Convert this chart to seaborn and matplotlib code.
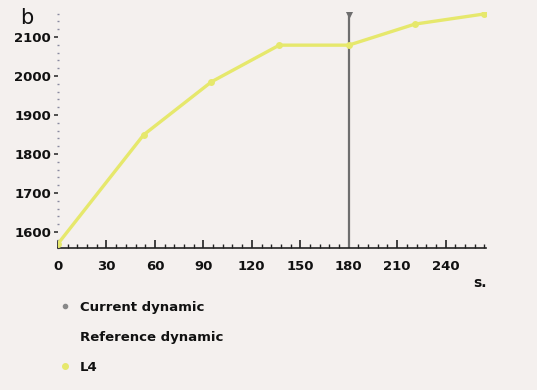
import matplotlib
matplotlib.use("Agg")
import matplotlib.pyplot as plt
from matplotlib.lines import Line2D
from matplotlib.ticker import MultipleLocator
import pandas as pd
import seaborn as sns

# L4 curve
time_s = [0, 53, 95, 137, 180, 221, 264]
value = [1570, 1849, 1985, 2079, 2079, 2133, 2159]
current_t = 180
x_ticks = [0, 30, 60, 90, 120, 150, 180, 210, 240]
y_ticks = [1600, 1700, 1800, 1900, 2000, 2100]
legend_labels = ["Current dynamic", "Reference dynamic", "L4"]

BG = "#f4f0ee"
YEL = "#e6e86c"
GREY = "#6e6e6e"

sns.set_style("white")
plt.rcParams["font.family"] = ["Liberation Sans Narrow", "DejaVu Sans"]

df = pd.DataFrame({"t": time_s, "v": value})

fig = plt.figure(figsize=(5.37, 3.90), dpi=100, facecolor=BG)
ax = fig.add_axes([58 / 537, 1 - 248 / 390, (486 - 58) / 537, (248 - 12) / 390])
ax.set_facecolor(BG)

sns.lineplot(data=df, x="t", y="v", ax=ax, color=YEL, lw=2.4,
             marker="o", markersize=5, markeredgewidth=0, zorder=3)
ax.vlines(current_t, 1559, 2158, color=GREY, lw=1.6, zorder=2)
ax.plot([current_t], [2158], marker="v", color=GREY, ms=4, zorder=2)

ax.set_xlim(0, 265)
ax.set_ylim(1559, 2164)
ax.set_xticks(x_ticks)
ax.set_yticks(y_ticks)
ax.xaxis.set_minor_locator(MultipleLocator(6))
ax.yaxis.set_minor_locator(MultipleLocator(20))
ax.set_xlabel("")
ax.set_ylabel("")

for s in ["top", "right", "left"]:
    ax.spines[s].set_visible(False)
ax.spines["bottom"].set_color("#222222")
ax.spines["bottom"].set_linewidth(1.2)

ax.tick_params(axis="x", which="major", direction="in", length=6, width=1.2,
               color="#222222", labelsize=9.5, pad=9, bottom=True,
               labelcolor="#111111")
ax.tick_params(axis="x", which="minor", direction="in", length=3, width=1,
               color="#222222", bottom=True)
ax.tick_params(axis="y", which="major", direction="out", length=3, width=1.2,
               color="#333333", labelsize=9.5, pad=2, left=True,
               labelcolor="#111111")
ax.tick_params(axis="y", which="minor", direction="inout", length=2, width=1,
               color="#8a8aa0", left=True)
for lab in ax.get_xticklabels() + ax.get_yticklabels():
    lab.set_fontweight("bold")

fig.text(480 / 537, 1 - 283 / 390, "s.", fontsize=10, fontweight="bold",
         ha="center", va="center", color="#111111")
fig.text(20 / 537, 1 - 18 / 390, "b", fontsize=15, family="DejaVu Sans",
         ha="left", va="center", color="#111111")

handles = [
    Line2D([], [], ls="", marker="o", ms=3, color="#888888"),
    Line2D([], [], ls="", marker="o", ms=3, color=BG),
    Line2D([], [], ls="", marker="o", ms=4, color=YEL),
]
leg = fig.legend(handles, legend_labels, loc="upper left",
                 bbox_to_anchor=(52 / 537, 1 - 294 / 390), frameon=False,
                 prop={"size": 9.5, "weight": "bold"}, labelspacing=1.3,
                 handlelength=1.0, handletextpad=0.6, borderpad=0,
                 labelcolor="#111111")

fig.savefig("out.png", dpi=100, facecolor=BG)
